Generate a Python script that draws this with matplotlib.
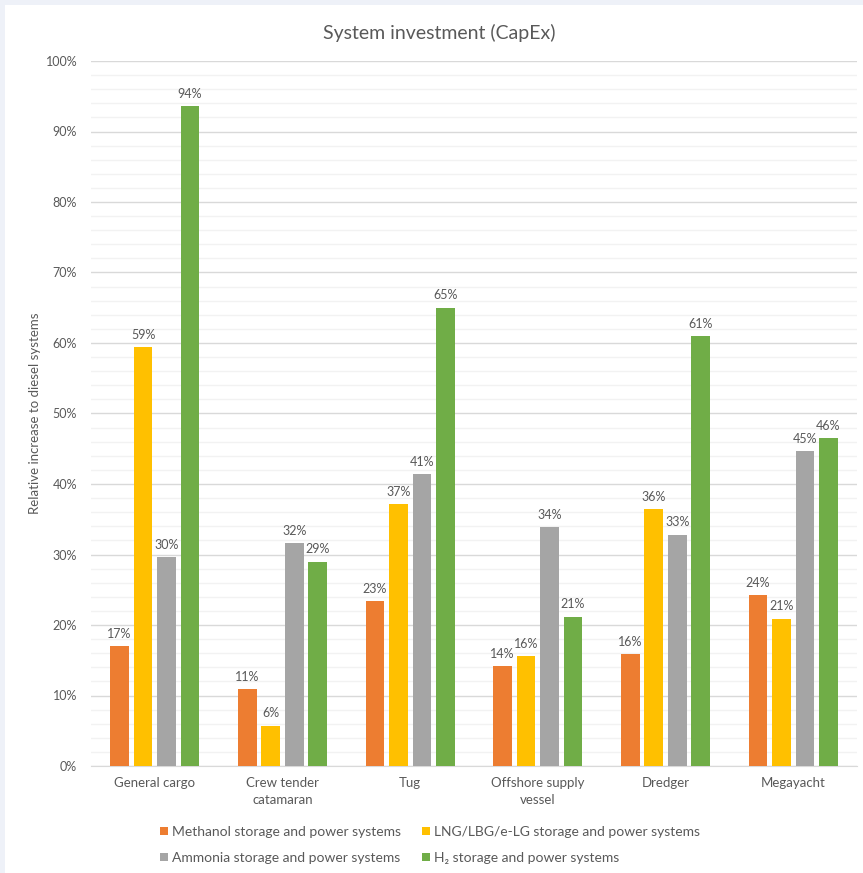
import matplotlib
matplotlib.use("Agg")
import matplotlib.pyplot as plt
from matplotlib.ticker import MultipleLocator, PercentFormatter
import numpy as np

plt.rcParams['font.family'] = ['Lato', 'DejaVu Sans']

vessels = ['General cargo', 'Crew tender\ncatamaran', 'Tug', 'Offshore supply\nvessel', 'Dredger', 'Megayacht']
series_names = ['Methanol storage and power systems',
                'LNG/LBG/e-LG storage and power systems',
                'Ammonia storage and power systems',
                'H\u2082 storage and power systems']
methanol = [0.170, 0.109, 0.234, 0.142, 0.159, 0.242]
lng = [0.594, 0.057, 0.371, 0.156, 0.364, 0.209]
ammonia = [0.296, 0.316, 0.414, 0.339, 0.328, 0.447]
hydrogen = [0.936, 0.290, 0.650, 0.212, 0.610, 0.465]
colors = ['#ED7D31', '#FFC000', '#A5A5A5', '#70AD47']

txt = '#595959'
W, H = 863, 873
fig = plt.figure(figsize=(W / 100, H / 100), dpi=100)
fig.patch.set_facecolor('#EEF1F8')

# white chart panel behind everything
panel = fig.add_axes([5 / W, 0, 1 - 5 / W, 1 - 5 / H], zorder=-1)
panel.set_facecolor('white')
panel.set_xticks([])
panel.set_yticks([])
for s in panel.spines.values():
    s.set_visible(False)

ax = fig.add_axes([91 / W, 1 - 766 / H, (857 - 91) / W, (766 - 61) / H], zorder=1)
ax.set_facecolor('none')

x = np.arange(len(vessels))
bw = 0.145
step = 0.184
for i, vals in enumerate([methanol, lng, ammonia, hydrogen]):
    pos = x + (i - 1.5) * step
    bars = ax.bar(pos, vals, width=bw, color=colors[i], label=series_names[i], zorder=3)
    for b, v in zip(bars, vals):
        ax.text(b.get_x() + b.get_width() / 2, v + 0.009, f'{round(v * 100):.0f}%',
                ha='center', va='bottom', fontsize=9, color=txt, zorder=4)

ax.set_xlim(-0.5, len(vessels) - 0.5)
ax.set_ylim(0, 1)
ax.yaxis.set_major_locator(MultipleLocator(0.1))
ax.yaxis.set_minor_locator(MultipleLocator(0.02))
ax.yaxis.set_major_formatter(PercentFormatter(1.0, decimals=0))
ax.grid(axis='y', which='major', color='#D9D9D9', linewidth=1, zorder=0)
ax.grid(axis='y', which='minor', color='#F2F2F2', linewidth=1, zorder=0)
ax.set_axisbelow(True)
ax.set_xticks(x)
ax.set_xticklabels(vessels, fontsize=9.5, color=txt, linespacing=1.5)
ax.tick_params(axis='both', which='both', length=0)
ax.tick_params(axis='y', labelsize=9, labelcolor=txt, pad=10)
ax.tick_params(axis='x', pad=8)
for s in ['top', 'right', 'left']:
    ax.spines[s].set_visible(False)
ax.spines['bottom'].set_color('#D9D9D9')

ax.set_ylabel('Relative increase to diesel systems', fontsize=9.5, color=txt, labelpad=3)
fig.text(439 / W, 1 - 33 / H, 'System investment (CapEx)', ha='center', va='center',
         fontsize=14, color=txt)

handles, labels = ax.get_legend_handles_labels()
order = [0, 2, 1, 3]
fig.legend([handles[k] for k in order], [labels[k] for k in order], ncol=2,
           loc='center', bbox_to_anchor=(430 / W, 1 - 845 / H), frameon=False,
           fontsize=10, labelcolor=txt, handlelength=0.55, handleheight=0.55,
           handletextpad=0.3, columnspacing=1.5, labelspacing=1.0)

fig.savefig('out.png', dpi=100, facecolor=fig.get_facecolor())
